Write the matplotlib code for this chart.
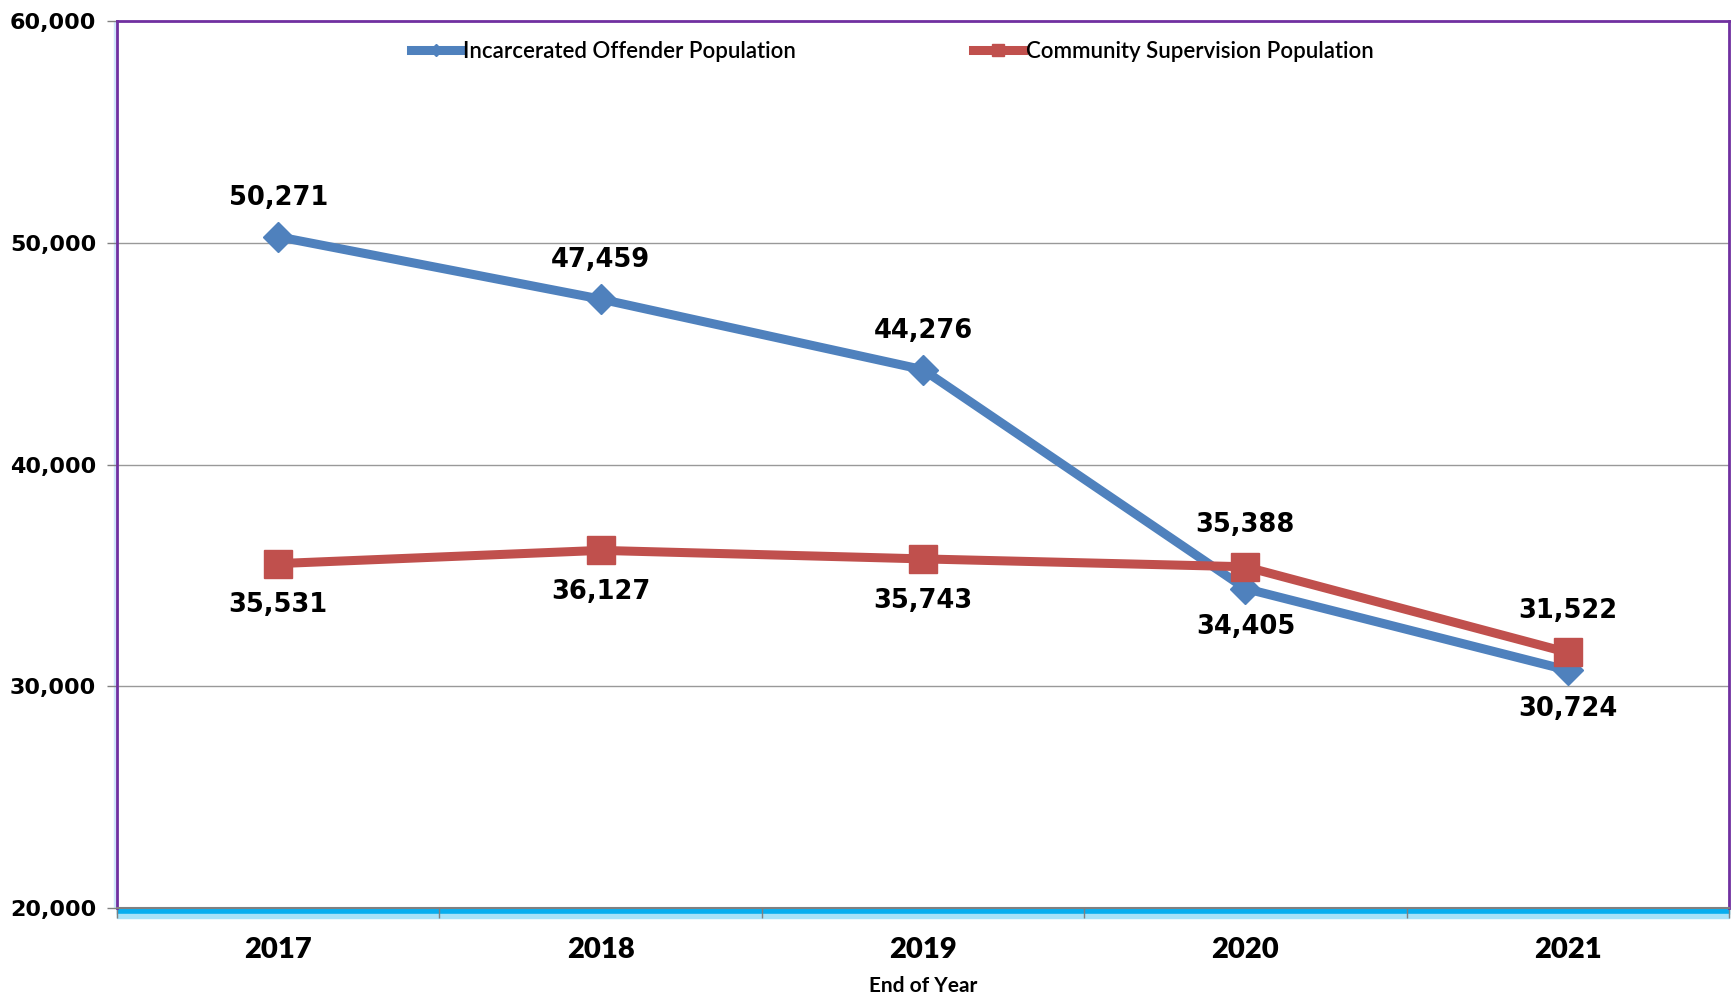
import matplotlib.pyplot as plt
from matplotlib.patches import Rectangle

# data
years = ["2017", "2018", "2019", "2020", "2021"]
incarcerated = [50271, 47459, 44276, 34405, 30724]
community = [35531, 36127, 35743, 35388, 31522]
# label above (+1) or below (-1) the point
inc_side = [1, 1, 1, -1, -1]
com_side = [-1, -1, -1, 1, 1]
y_ticks = [20000, 30000, 40000, 50000, 60000]

blue = "#4F81BD"
red = "#C0504D"
purple = "#7030A0"

fig = plt.figure(figsize=(17.35, 9.98), dpi=100)
ax = fig.add_axes([117 / 1735, 1 - 908 / 998, 1612 / 1735, 887 / 998])

x = list(range(len(years)))
ax.plot(x, incarcerated, color=blue, lw=6.5, marker="D", ms=15, mec=blue, mfc=blue,
        label="Incarcerated Offender Population", zorder=3)
ax.plot(x, community, color=red, lw=6.5, marker="s", ms=20, mec=red, mfc=red,
        label="Community Supervision Population", zorder=4)

# value labels
for xi, v, s in zip(x, incarcerated, inc_side):
    ax.annotate(f"{v:,}", (xi, v), xytext=(0, 28 * s), textcoords="offset points",
                ha="center", va="center", fontsize=18.5, fontweight="bold",
                family="DejaVu Sans", color="black")
for xi, v, s in zip(x, community, com_side):
    ax.annotate(f"{v:,}", (xi, v), xytext=(0, 30 * s), textcoords="offset points",
                ha="center", va="center", fontsize=18.5, fontweight="bold",
                family="DejaVu Sans", color="black")

ax.set_xlim(-0.5, len(years) - 0.5)
ax.set_ylim(20000, 60000)
ax.set_yticks(y_ticks)
ax.set_yticklabels([f"{t:,}" for t in y_ticks], fontsize=16, fontweight="bold",
                   family="DejaVu Sans")
ax.set_xticks(x)
ax.set_xticklabels(years, fontsize=21, fontweight="heavy", family="Lato")
ax.set_xticks([i - 0.5 for i in range(len(years) + 1)], minor=True)
ax.tick_params(axis="x", which="major", length=0, pad=21)
ax.tick_params(axis="x", which="minor", length=7, color="#808080", width=1)
ax.tick_params(axis="y", length=7, color="#808080", width=1, pad=8)

for t in y_ticks[1:-1]:
    ax.axhline(t, color="#999999", lw=1, zorder=1)

ax.set_xlabel("End of Year", fontsize=15, fontweight="bold", family="Lato", labelpad=9)

for side in ["top", "right", "left"]:
    ax.spines[side].set_color(purple)
    ax.spines[side].set_linewidth(2)
ax.spines["bottom"].set_color("#808080")
ax.spines["bottom"].set_linewidth(1.5)

# blue glow band under the x axis and beside the y axis
ax.add_patch(Rectangle((0, -0.007), 1, 0.007, transform=ax.transAxes,
                       color="#08AEEF", clip_on=False, zorder=0))
ax.add_patch(Rectangle((0, -0.011), 1, 0.004, transform=ax.transAxes,
                       color="#A8E2F8", clip_on=False, zorder=0))
ax.add_patch(Rectangle((-0.002, 0), 0.002, 1, transform=ax.transAxes,
                       color="#CFE6FA", clip_on=False, zorder=0))

ax.legend(loc="center", bbox_to_anchor=(892 / 1735, 1 - 51 / 998),
          bbox_transform=fig.transFigure, ncol=2, frameon=False,
          prop={"family": "Lato", "size": 16, "weight": "semibold"},
          handlelength=2.25, handletextpad=0.1, columnspacing=8.0,
          markerscale=0.4)

fig.savefig("out.png", dpi=100)
